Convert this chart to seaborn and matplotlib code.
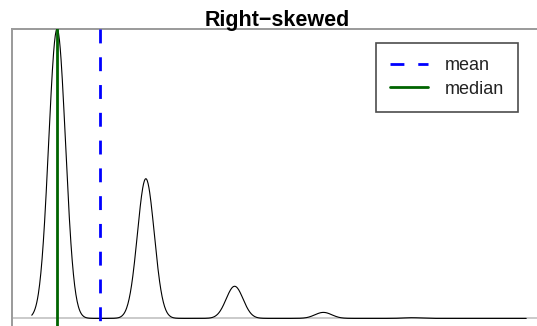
import numpy as np
import pandas as pd
import matplotlib
matplotlib.use("Agg")
import matplotlib.pyplot as plt
import seaborn as sns

# Observed values and their relative frequencies
values = [1, 2, 3, 4, 5, 6]
weights = [288, 139, 32, 6, 0.7, 0.1]
bandwidth = 0.095  # kernel standard deviation, in data units

# Summary statistics marked on the chart
mean_value = 1.48
median_value = 1.0

title_text = "Right\u2212skewed"
legend_labels = ["mean", "median"]

sns.set_theme(style="white")
plt.rcParams["font.family"] = ["Liberation Sans", "DejaVu Sans"]

df = pd.DataFrame({"value": values, "weight": weights})

# gaussian_kde scales a scalar bw_method by the weighted standard deviation
spread = float(np.sqrt(np.cov(df["value"].to_numpy(), aweights=df["weight"].to_numpy())))
bw_factor = bandwidth / spread
cut = 3
support = (min(values) - cut * bandwidth, max(values) + cut * bandwidth)

W, H = 537, 326
fig = plt.figure(figsize=(W / 100, H / 100), dpi=100)
fig.patch.set_facecolor("white")

left_px, right_px, top_px, bottom_px = 12, 546, 29, 330
ax = fig.add_axes([left_px / W, 1 - bottom_px / H,
                   (right_px - left_px) / W, (bottom_px - top_px) / H])
ax.set_facecolor("white")

sns.kdeplot(data=df, x="value", weights="weight", bw_method=bw_factor,
            cut=cut, clip=support, gridsize=1200, color="black", lw=0.8,
            ax=ax, zorder=3)

curve = ax.lines[0]
xd, yd = curve.get_xdata(), curve.get_ydata()
lo, hi = xd.min(), xd.max()
pad = 0.04 * (hi - lo)
ax.set_xlim(lo - pad, hi + pad)
peak = yd.max()
ax.set_ylim(-0.04 * peak, peak)

# zero line under the density curve
ax.axhline(0, color="#c6c6c6", lw=1.3, zorder=1)

mean_line = ax.axvline(mean_value, color="#0000ff", lw=2.0, zorder=4)
mean_line.set_dashes((5, 5))
mean_line.set_ydata([1, 0])  # start dash pattern at the top edge
median_line = ax.axvline(median_value, color="#006400", lw=2.0, zorder=4)

ax.set_xticks([])
ax.set_yticks([])
ax.set_xlabel("")
ax.set_ylabel("")
for sp in ax.spines.values():
    sp.set_color("#9a9a9a")
    sp.set_linewidth(1.4)

leg = ax.legend(handles=[mean_line, median_line], labels=legend_labels,
                loc="upper right", bbox_to_anchor=(518 / W, 1 - 43 / H),
                bbox_transform=fig.transFigure, borderaxespad=0,
                frameon=True, fancybox=False, framealpha=1,
                edgecolor="#4d4d4d", fontsize=13, handlelength=2.1,
                handletextpad=0.9, borderpad=0.8, labelspacing=0.35)
leg.get_frame().set_linewidth(1.2)
for t in leg.get_texts():
    t.set_color("#222222")

fig.text(277.5 / W, 1 - 26 / H, title_text, ha="center", va="baseline",
         fontsize=15.5, fontweight="bold", color="black")

fig.savefig("out.png", dpi=100)
